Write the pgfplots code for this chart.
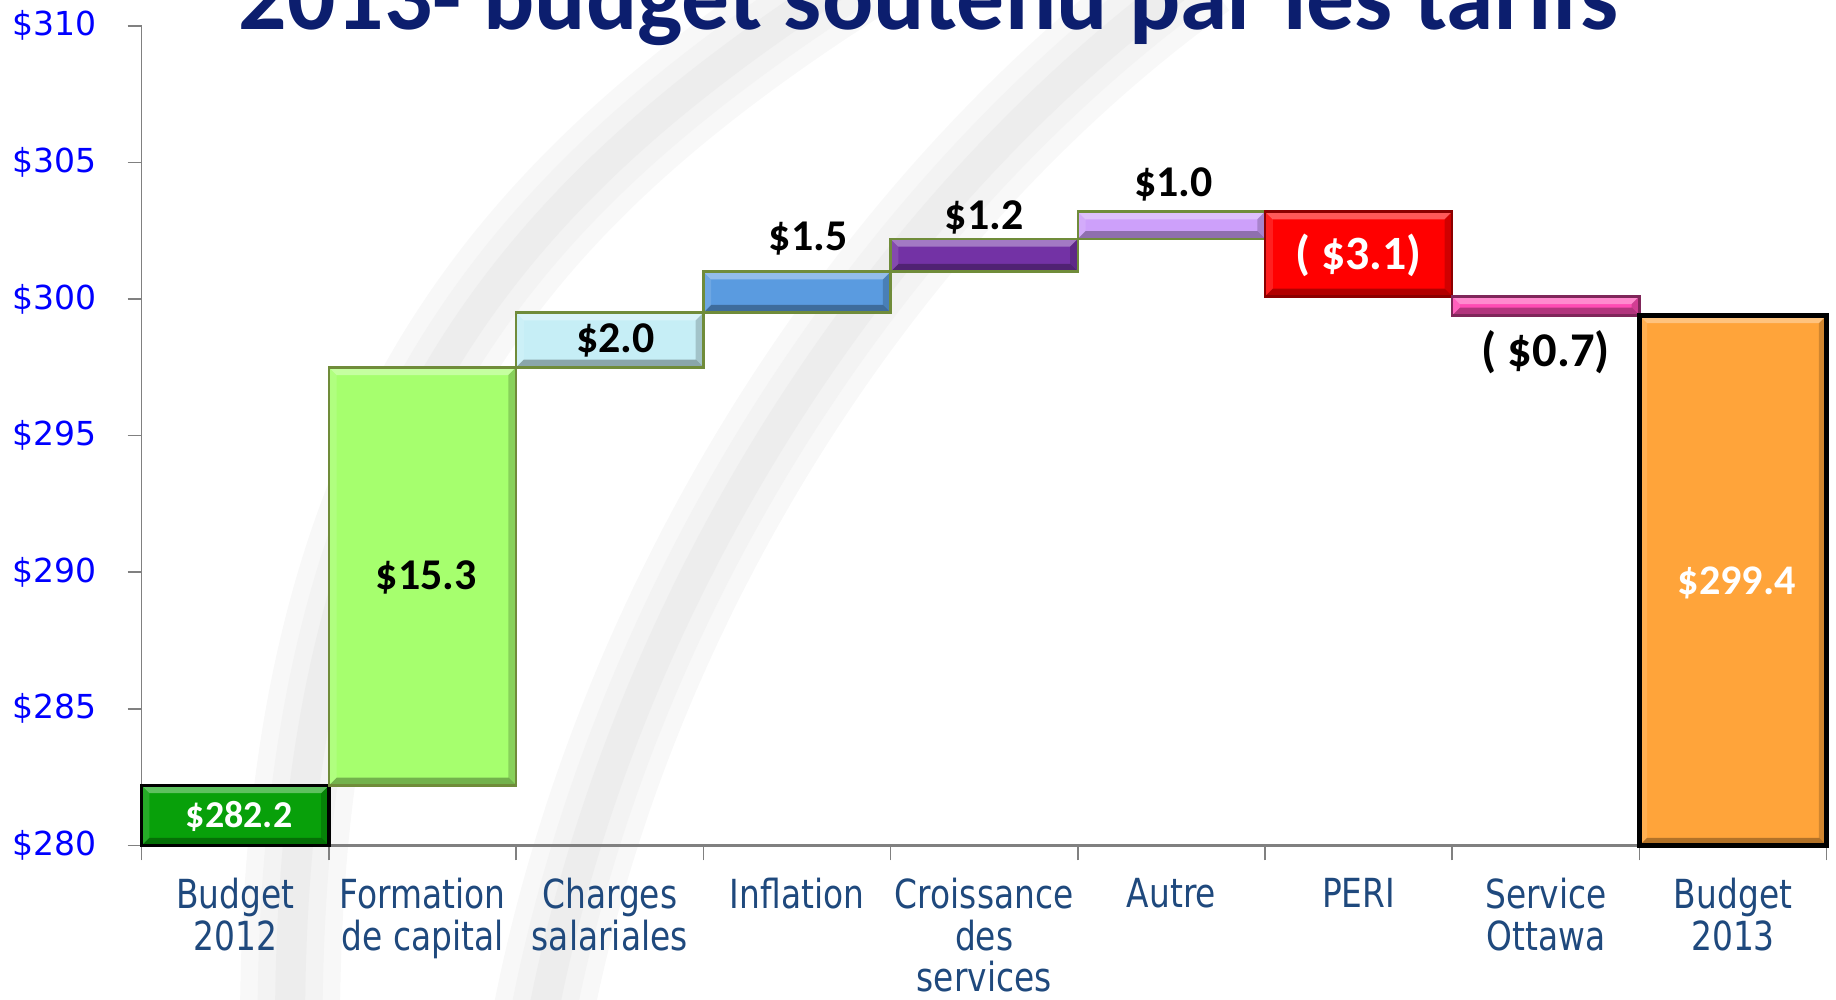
\documentclass[border=0pt]{standalone}
\usepackage{pgfplots}
\pgfplotsset{compat=1.18}
\usepackage{fontspec}
\setmainfont{Carlito}
\newfontfamily\tickfont{DejaVu Sans}
\newfontfamily\catfont[FakeStretch=0.82]{DejaVu Sans}
\definecolor{titleblue}{RGB}{12,30,110}
\definecolor{catblue}{RGB}{31,73,125}
\definecolor{olive}{RGB}{112,140,58}
\definecolor{cGreen}{RGB}{8,160,10}
\definecolor{cLime}{RGB}{166,255,110}
\definecolor{cCyan}{RGB}{198,238,246}
\definecolor{cBlue}{RGB}{90,155,224}
\definecolor{cPurple}{RGB}{115,50,165}
\definecolor{cLilac}{RGB}{205,160,250}
\definecolor{cRed}{RGB}{255,0,0}
\definecolor{cPink}{RGB}{255,76,180}
\definecolor{cOrange}{RGB}{255,164,58}
\definecolor{sw1}{RGB}{248,248,248}
\definecolor{sw2}{RGB}{243,243,243}
\definecolor{sw3}{RGB}{237,237,237}
\newlength\bv \setlength\bv{2.2pt}
\tikzset{nopp/.style={path picture={}, draw=none},
bevel/.style={path picture={
  \fill[nopp,white,opacity=0.35] (path picture bounding box.north west) -- (path picture bounding box.north east) -- ([xshift=-\bv,yshift=-\bv]path picture bounding box.north east) -- ([xshift=\bv,yshift=-\bv]path picture bounding box.north west) -- cycle;
  \fill[nopp,black,opacity=0.30] (path picture bounding box.south west) -- (path picture bounding box.south east) -- ([xshift=-\bv,yshift=\bv]path picture bounding box.south east) -- ([xshift=\bv,yshift=\bv]path picture bounding box.south west) -- cycle;
  \fill[nopp,white,opacity=0.12] (path picture bounding box.north west) -- (path picture bounding box.south west) -- ([xshift=\bv,yshift=\bv]path picture bounding box.south west) -- ([xshift=\bv,yshift=-\bv]path picture bounding box.north west) -- cycle;
  \fill[nopp,black,opacity=0.18] (path picture bounding box.north east) -- (path picture bounding box.south east) -- ([xshift=-\bv,yshift=\bv]path picture bounding box.south east) -- ([xshift=-\bv,yshift=-\bv]path picture bounding box.north east) -- cycle;
}}}
\newcommand\swooshA{(2.9,-0.3) .. controls (2.9,5.5) and (5.0,8.0) .. (8.6,10.3)}
\newcommand\swooshB{(5.4,-0.3) .. controls (6.2,4.0) and (8.8,8.0) .. (12.0,10.3)}
\begin{document}
\begin{tikzpicture}
\useasboundingbox (0,0) rectangle (18.36,10);
\begin{scope}
\clip (0,0) rectangle (18.36,10);
% faint background swooshes (watermark)
\draw[sw1, line width=1.0cm] \swooshA;
\draw[sw2, line width=0.65cm] \swooshA;
\draw[sw3, line width=0.3cm] \swooshA;
\draw[sw1, line width=1.0cm] \swooshB;
\draw[sw2, line width=0.65cm] \swooshB;
\draw[sw3, line width=0.3cm] \swooshB;
\end{scope}
\node[anchor=base west, text=titleblue, font=\fontsize{27.2}{30}\selectfont\bfseries, inner sep=0pt] at (2.38,9.70) {2013- budget soutenu par les tarifs};
\begin{axis}[
  at={(1.417cm,1.545cm)}, anchor=south west,
  scale only axis, width=16.85cm, height=8.197cm,
  xmin=-0.5, xmax=8.5, ymin=280, ymax=310,
  clip=false,
  axis x line*=bottom, axis y line*=left,
  x axis line style={-, draw=gray, line width=0.75pt},
  y axis line style={-, draw=gray, line width=0.45pt},
  tick align=outside,
  ytick={280,285,...,310},
  yticklabels={\$280,\$285,\$290,\$295,\$300,\$305,\$310},
  yticklabel style={font=\tickfont\fontsize{9.4}{10}\selectfont, text=blue, xshift=-0.19cm},
  major tick length=0.14cm, minor tick length=0.15cm,
  ytick style={draw=gray, line width=0.45pt},
  xtick={0,...,8},
  minor xtick={-0.5,0.5,...,8.5},
  major x tick style={draw=none},
  minor x tick style={draw=gray, line width=0.45pt},
  xticklabels={{Budget\\2012},{Formation\\de capital},{Charges\\salariales},{Inflation},{Croissance\\des\\services},{Autre},{PERI},{Service\\Ottawa},{Budget\\2013}},
  xticklabel style={font=\catfont\fontsize{11.4}{11.9}\selectfont, text=catblue, align=center, anchor=north, yshift=-0.06cm},
]
% Budget 2012: 280 -> 282.2
\addplot[fill=cGreen, draw=black, line width=0.9pt, bevel] coordinates {(-0.5,280) (0.5,280) (0.5,282.2) (-0.5,282.2)} -- cycle;
% Formation de capital: +15.3
\addplot[fill=cLime, draw=olive, line width=0.7pt, bevel] coordinates {(0.5,282.2) (1.5,282.2) (1.5,297.5) (0.5,297.5)} -- cycle;
% Charges salariales: +2.0
\addplot[fill=cCyan, draw=olive, line width=0.7pt, bevel] coordinates {(1.5,297.5) (2.5,297.5) (2.5,299.5) (1.5,299.5)} -- cycle;
% Inflation: +1.5
\addplot[fill=cBlue, draw=olive, line width=0.7pt, bevel] coordinates {(2.5,299.5) (3.5,299.5) (3.5,301.0) (2.5,301.0)} -- cycle;
% Croissance des services: +1.2
\addplot[fill=cPurple, draw=olive, line width=0.7pt, bevel] coordinates {(3.5,301.0) (4.5,301.0) (4.5,302.2) (3.5,302.2)} -- cycle;
% Autre: +1.0
\addplot[fill=cLilac, draw=olive, line width=0.7pt, bevel] coordinates {(4.5,302.2) (5.5,302.2) (5.5,303.2) (4.5,303.2)} -- cycle;
% PERI: -3.1
\addplot[fill=cRed, draw=cRed!55!black, line width=0.7pt, bevel] coordinates {(5.5,300.1) (6.5,300.1) (6.5,303.2) (5.5,303.2)} -- cycle;
% Service Ottawa: -0.7
\addplot[fill=cPink, draw=cPink!50!black, line width=0.7pt, bevel] coordinates {(6.5,299.4) (7.5,299.4) (7.5,300.1) (6.5,300.1)} -- cycle;
% Budget 2013: 299.4
\addplot[fill=cOrange, draw=black, line width=1.3pt, bevel] coordinates {(7.5,280) (8.5,280) (8.5,299.4) (7.5,299.4)} -- cycle;

\tikzset{vl/.style={font=\bfseries\fontsize{12.5}{14}\selectfont}}
\node[vl, text=white, font=\bfseries\fontsize{10.8}{12}\selectfont] at (axis cs:0.02,281.07) {\$282.2};
\node[vl] at (axis cs:1.02,289.8) {\$15.3};
\node[vl] at (axis cs:2.03,298.5) {\$2.0};
\node[vl] at (axis cs:3.06,302.2) {\$1.5};
\node[vl] at (axis cs:4,303.0) {\$1.2};
\node[vl] at (axis cs:5.01,304.2) {\$1.0};
\node[vl, text=white, font=\bfseries\fontsize{13.6}{15}\selectfont] at (axis cs:6,301.6) {( \$3.1)};
\node[vl, font=\bfseries\fontsize{13.8}{15}\selectfont] at (axis cs:7,298.05) {( \$0.7)};
\node[vl, text=white, font=\bfseries\fontsize{12}{14}\selectfont] at (axis cs:8.02,289.6) {\$299.4};
\end{axis}
\end{tikzpicture}
\end{document}
